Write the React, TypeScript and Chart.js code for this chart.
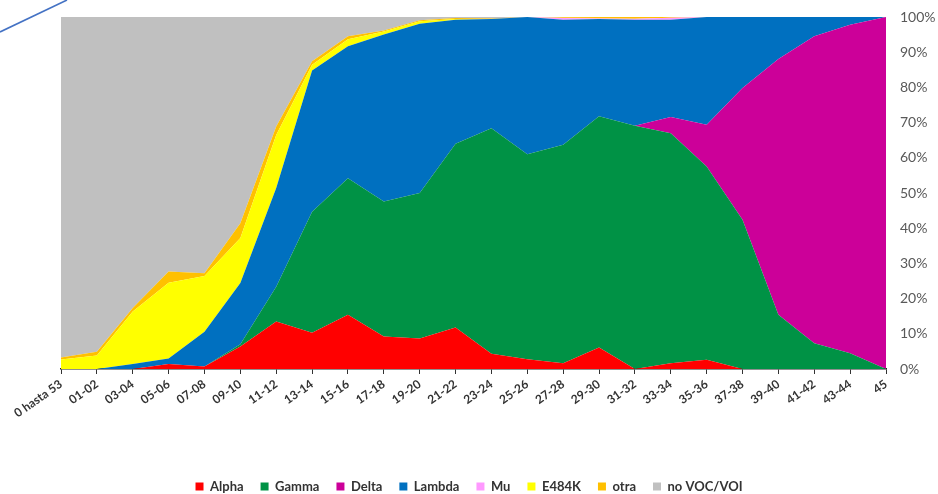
import React, { useEffect, useRef } from "react";
import { Chart, registerables } from "chart.js";

Chart.register(...registerables);

const categories = [
  "0 hasta 53", "01-02", "03-04", "05-06", "07-08", "09-10", "11-12", "13-14",
  "15-16", "17-18", "19-20", "21-22", "23-24", "25-26", "27-28", "29-30",
  "31-32", "33-34", "35-36", "37-38", "39-40", "41-42", "43-44", "45",
];

const alpha = [0, 0, 0, 1.4, 0.7, 6.4, 13.5, 10.3, 15.4, 9.2, 8.7, 11.8, 4.3, 2.8, 1.6, 6.1, 0, 1.6, 2.6, 0, 0, 0, 0, 0];
const gamma = [0, 0, 0, 0, 0, 0.6, 9.9, 34.4, 38.8, 38.4, 41.3, 52.2, 64.1, 58.2, 62.1, 65.7, 69.1, 65.4, 54.9, 42.4, 15.4, 7.3, 4.5, 0];
const delta = [0, 0, 0, 0, 0, 0, 0, 0, 0, 0, 0, 0, 0, 0, 0, 0, 0, 4.6, 11.9, 37.4, 72.7, 87.2, 93.3, 100];
const lambda = [0, 0, 1.4, 1.6, 9.9, 17.4, 28.0, 40.1, 37.5, 47.4, 48.1, 35.2, 31.0, 39.0, 35.5, 27.6, 30.1, 27.6, 30.6, 20.2, 11.9, 5.5, 2.2, 0];
const mu = [0, 0, 0, 0, 0, 0, 0, 0, 0, 0, 0, 0, 0, 0, 0.5, 0.2, 0.3, 0.6, 0, 0, 0, 0, 0, 0];
const e484k = [2.7, 3.8, 14.9, 21.5, 15.8, 12.8, 15.1, 1.6, 2.0, 0.9, 0.7, 0.2, 0, 0, 0, 0, 0, 0, 0, 0, 0, 0, 0, 0];
const otra = [0.6, 1.1, 1.0, 3.2, 0.8, 4.2, 2.4, 1.0, 0.8, 0.3, 0.3, 0.3, 0.2, 0, 0.2, 0.4, 0.5, 0.2, 0, 0, 0, 0, 0, 0];
const noVoc = [96.7, 95.1, 82.7, 72.3, 72.8, 58.6, 31.1, 12.6, 5.5, 3.8, 0.9, 0.3, 0.4, 0, 0.1, 0, 0, 0, 0, 0, 0, 0, 0, 0];

const yTicks = [0, 10, 20, 30, 40, 50, 60, 70, 80, 90, 100];

const FONT = "Lato, 'Open Sans', sans-serif";

const series = [
  { label: "Alpha", data: alpha, color: "#FF0000" },
  { label: "Gamma", data: gamma, color: "#009245" },
  { label: "Delta", data: delta, color: "#CC0099" },
  { label: "Lambda", data: lambda, color: "#0070C0" },
  { label: "Mu", data: mu, color: "#FF99FF" },
  { label: "E484K", data: e484k, color: "#FFFF00" },
  { label: "otra", data: otra, color: "#FFC000" },
  { label: "no VOC/VOI", data: noVoc, color: "#C0C0C0" },
];

const decoLine = {
  id: "decoLine",
  afterDraw(chart: any) {
    const ctx = chart.ctx;
    ctx.save();
    ctx.strokeStyle = "#4472C4";
    ctx.lineWidth = 1.6;
    ctx.beginPath();
    ctx.moveTo(0, 32);
    ctx.lineTo(67, 0);
    ctx.stroke();
    ctx.restore();
  },
};

export default function App() {
  const ref = useRef<HTMLCanvasElement | null>(null);
  useEffect(() => {
    document.body.style.margin = "0";
    const chart = new Chart(ref.current as HTMLCanvasElement, {
      type: "line",
      data: {
        labels: categories,
        datasets: series.map((s, i) => ({
          label: s.label,
          data: s.data,
          backgroundColor: s.color,
          borderColor: s.color,
          borderWidth: 0,
          pointRadius: 0,
          tension: 0,
          fill: i === 0 ? "origin" : "-1",
        })),
      },
      options: {
        animation: false,
        responsive: false,
        maintainAspectRatio: false,
        layout: { padding: { top: 17, left: 0, right: 0, bottom: 0 } },
        plugins: {
          tooltip: { enabled: false },
          legend: {
            position: "bottom",
            labels: {
              boxWidth: 8,
              boxHeight: 8,
              padding: 17,
              color: "#333333",
              font: { family: FONT, size: 13, weight: "bold" },
            },
          },
        },
        scales: {
          x: {
            offset: false,
            grid: { drawOnChartArea: false, drawTicks: true, tickLength: 5, color: "#333333" },
            border: { display: true, color: "#222222", width: 1.5 },
            ticks: {
              autoSkip: false,
              minRotation: 35,
              maxRotation: 35,
              padding: 3,
              color: "#333333",
              font: { family: FONT, size: 12, weight: "bold" },
            },
            afterFit: (scale: any) => {
              scale.height = 94;
              scale.paddingLeft = 61;
              scale.paddingRight = 0;
            },
          },
          y: {
            position: "right",
            stacked: true,
            min: 0,
            max: 100,
            afterBuildTicks: (scale: any) => {
              scale.ticks = yTicks.map((v) => ({ value: v }));
            },
            grid: { display: false, drawTicks: false },
            border: { display: false },
            ticks: {
              padding: 14,
              color: "#595959",
              font: { family: FONT, size: 14 },
              callback: (v: any) => v + "%",
            },
            afterFit: (scale: any) => {
              scale.width = 52;
              scale.paddingTop = 0;
              scale.paddingBottom = 0;
            },
          },
        },
      },
      plugins: [decoLine],
    });
    return () => chart.destroy();
  }, []);
  return (
    <div style={{ width: 938, height: 494, position: "relative", overflow: "hidden", background: "#fff" }}>
      <canvas ref={ref} width={938} height={503} style={{ display: "block" }} />
    </div>
  );
}
